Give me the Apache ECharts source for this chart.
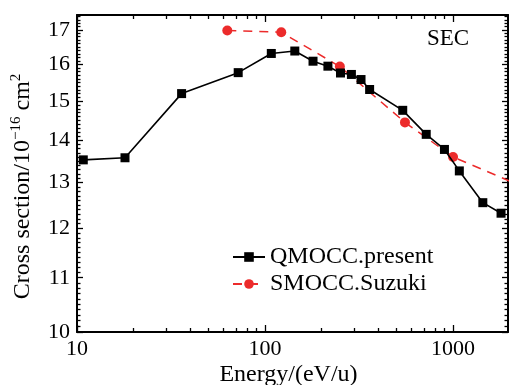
<!DOCTYPE html>
<html>
<head>
<meta charset="utf-8">
<script src="https://cdn.jsdelivr.net/npm/echarts@6/dist/echarts.min.js"></script>
<style>
html,body{margin:0;padding:0;background:#fff;}
#chart{width:509px;height:385px;}
</style>
</head>
<body>
<div id="chart"></div>
<script>
// ---- data ----
const qmoccEnergy = [10.8, 18, 36, 72, 108, 144, 180, 216, 252, 288, 324, 360, 540, 720, 900, 1080, 1440, 1800];
const qmoccCross  = [13.53, 13.58, 15.20, 15.77, 16.31, 16.38, 16.09, 15.95, 15.76, 15.72, 15.58, 15.31, 14.76, 14.15, 13.78, 13.27, 12.55, 12.32];
const smoccEnergy = [63, 122, 250, 555, 1000, 2400];
const smoccCross  = [16.98, 16.93, 15.94, 14.45, 13.60, 12.89];
const seriesNames = ['QMOCC.present', 'SMOCC.Suzuki'];
const xMajorTicks = [10, 100, 1000];
const xMinorTicks = [20, 30, 40, 50, 60, 70, 80, 90, 200, 300, 400, 500, 600, 700, 800, 900];
const yMajorTicks = [10, 11, 12, 13, 14, 15, 16, 17];
const yMinorTicks = [];
for (let i = 101; i <= 174; i++) { if (i % 10 !== 0) yMinorTicks.push(i / 10); }
const xName = 'Energy/(eV/u)';
const panelLabel = 'SEC';

const X_MIN = 10, X_MAX = 1960, Y_MIN = 10, Y_MAX = 17.45;
const FONT = '"Liberation Serif", "DejaVu Serif", serif';

function pairs(xs, ys) { return xs.map((x, i) => [x, ys[i]]); }

function xAxisDef(position, ticks, len, major) {
  return {
    type: 'log', logBase: 10, min: X_MIN, max: X_MAX, position: position,
    axisLine: { show: major, lineStyle: { color: '#000', width: 2 } },
    axisTick: { show: true, inside: true, length: len, customValues: ticks, lineStyle: { color: '#000', width: 1.3 } },
    axisLabel: (major && position === 'bottom') ? {
      show: true, customValues: xMajorTicks, margin: 6,
      formatter: v => String(Math.round(v)),
      color: '#000', fontFamily: FONT, fontSize: 22
    } : { show: false },
    splitLine: { show: false },
    name: (major && position === 'bottom') ? xName : '',
    nameLocation: 'middle', nameGap: 31, nameMoveOverlap: false,
    nameTextStyle: { color: '#000', fontFamily: FONT, fontSize: 24, padding: [0, 8, 0, 0] }
  };
}
function yAxisDef(position, ticks, len, major) {
  const isMainLeft = major && position === 'left';
  return {
    type: 'log', logBase: 10, min: Y_MIN, max: Y_MAX, position: position,
    axisLine: { show: major, lineStyle: { color: '#000', width: 2 } },
    axisTick: { show: true, inside: true, length: len, customValues: ticks, lineStyle: { color: '#000', width: 1.3 } },
    axisLabel: isMainLeft ? {
      show: true, customValues: yMajorTicks, margin: 7,
      formatter: v => String(Math.round(v)),
      color: '#000', fontFamily: FONT, fontSize: 22
    } : { show: false },
    splitLine: { show: false },
    name: isMainLeft ? '{a|Cross section/10}{s|\u221216}{a| cm}{s|2}' : '',
    nameLocation: 'middle', nameGap: 42, nameRotate: 90, nameMoveOverlap: false,
    nameTextStyle: {
      color: '#000', fontFamily: FONT, fontSize: 24, padding: [0, 26, 0, 0],
      rich: {
        a: { fontFamily: FONT, fontSize: 24, color: '#000', lineHeight: 26, verticalAlign: 'bottom' },
        s: { fontFamily: FONT, fontSize: 15, color: '#000', lineHeight: 26, verticalAlign: 'top', padding: [0, 0, 10, 0] }
      }
    }
  };
}

const chart = echarts.init(document.getElementById('chart'), null, { renderer: 'canvas' });
chart.setOption({
  animation: false,
  backgroundColor: '#fff',
  grid: { left: 77, right: 1, top: 15, bottom: 53, containLabel: false, outerBoundsMode: 'none' },
  xAxis: [
    xAxisDef('bottom', xMajorTicks, 7, true),
    xAxisDef('bottom', xMinorTicks, 4, false),
    xAxisDef('top', xMajorTicks, 7, true),
    xAxisDef('top', xMinorTicks, 4, false)
  ],
  yAxis: [
    yAxisDef('left', yMajorTicks, 6, true),
    yAxisDef('left', yMinorTicks, 3.5, false),
    yAxisDef('right', yMajorTicks, 6, true),
    yAxisDef('right', yMinorTicks, 3.5, false)
  ],
  legend: {
    orient: 'vertical', left: 232, top: 245, itemGap: 3, padding: 0,
    itemWidth: 32, itemHeight: 12,
    data: seriesNames,
    textStyle: { color: '#000', fontFamily: FONT, fontSize: 24 }
  },
  graphic: [{
    type: 'text', left: 427, top: 27,
    style: { text: panelLabel, fill: '#000', font: '23px ' + FONT }
  }],
  series: [
    {
      name: seriesNames[1], type: 'line', xAxisIndex: 0, yAxisIndex: 0,
      data: pairs(smoccEnergy, smoccCross), clip: true,
      symbol: 'circle', symbolSize: 10,
      itemStyle: { color: '#ec2b2b' },
      lineStyle: { color: '#ec2b2b', width: 1.5, type: [9, 7] },
      z: 2
    },
    {
      name: seriesNames[0], type: 'line', xAxisIndex: 0, yAxisIndex: 0,
      data: pairs(qmoccEnergy, qmoccCross), clip: true,
      symbol: 'rect', symbolSize: 9,
      itemStyle: { color: '#000' },
      lineStyle: { color: '#000', width: 1.6 },
      z: 3
    }
  ]
});
</script>
</body>
</html>
